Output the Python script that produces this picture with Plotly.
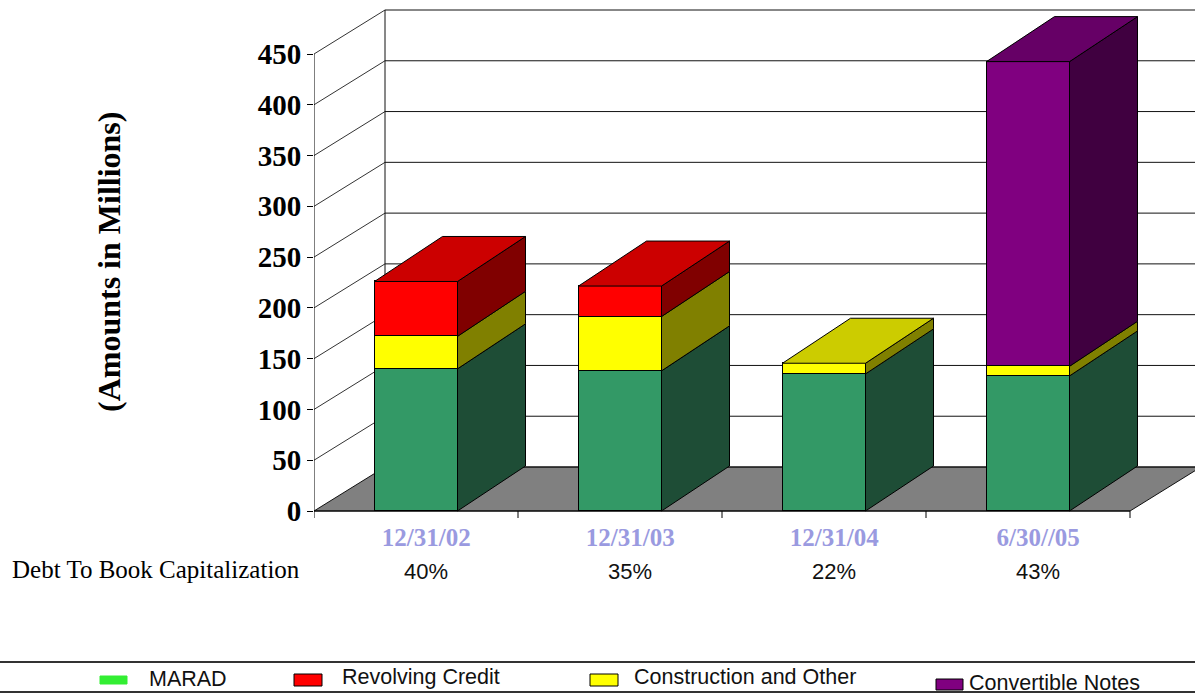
import plotly.graph_objects as go

# ---------------- data ----------------
categories = ["12/31/02", "12/31/03", "12/31/04", "6/30//05"]
debt_to_book = ["40%", "35%", "22%", "43%"]
marad = [140, 138, 135, 133]
construction = [32, 53.5, 10.5, 9.5]
revolving = [54, 30, 0, 0]
convertible = [0, 0, 0, 300]
y_tick_values = [0, 50, 100, 150, 200, 250, 300, 350, 400, 450]
legend_order = ["MARAD", "Revolving Credit", "Construction and Other", "Convertible Notes"]

# bottom -> top stacking order
stack = [
    ("MARAD", marad),
    ("Construction and Other", construction),
    ("Revolving Credit", revolving),
    ("Convertible Notes", convertible),
]

# ---------------- styles ----------------
STYLE = {
    "MARAD": dict(front="#339966", top="#267A4F", side="#1E4D36", legend="#33EE33"),
    "Construction and Other": dict(front="#FFFF00", top="#CCCC00", side="#808000", legend="#FFFF00"),
    "Revolving Credit": dict(front="#FF0000", top="#CC0000", side="#800000", legend="#FF0000"),
    "Convertible Notes": dict(front="#800080", top="#660066", side="#400040", legend="#800080"),
}

W, H = 1195, 695
L, T, B = 314, 5, 520           # plot-area pixel edges
ZERO_PX = 511                   # pixel row of value 0 on the front plane
PX_PER_UNIT = 457 / 450
PX_PER_CAT = 204

x_lo = -0.5
x_hi = x_lo + (W - L) / PX_PER_CAT
y_lo = -(B - ZERO_PX) / PX_PER_UNIT
y_hi = (ZERO_PX - T) / PX_PER_UNIT

WALL_DX, WALL_DY = 71 / PX_PER_CAT, 44 / PX_PER_UNIT
BAR_DX, BAR_DY = 68 / PX_PER_CAT, 45 / PX_PER_UNIT
BAR_W = 83 / PX_PER_CAT
HALF = BAR_W / 2
N = len(categories)
X_FLOOR_END = N - 0.5


def xp(px):
    return (px - L) / (W - L)


def yp(px):
    return (B - px) / (B - T)


def poly(points):
    return "M " + " L ".join(f"{a},{b}" for a, b in points) + " Z"


fig = go.Figure()

# front faces: real stacked bars
for name, vals in stack:
    st = STYLE[name]
    fig.add_trace(go.Bar(
        x=list(range(N)),
        y=[v if v else None for v in vals],
        name=name,
        width=BAR_W,
        marker=dict(color=st["front"], line=dict(color="black", width=1)),
        showlegend=False,
        hovertemplate=name + ": %{y}<extra></extra>",
    ))

shapes = []
line_col = "#111111"

# floor
shapes.append(dict(type="path", xref="x", yref="y", layer="below",
                   path=poly([(x_lo, 0), (X_FLOOR_END, 0),
                              (X_FLOOR_END + WALL_DX, WALL_DY), (x_lo + WALL_DX, WALL_DY)]),
                   fillcolor="#808080", line=dict(color=line_col, width=1)))

# walls / gridlines
for v in y_tick_values:
    if v > 0:
        shapes.append(dict(type="line", xref="x", yref="y", layer="below",
                           x0=x_lo, y0=v, x1=x_lo + WALL_DX, y1=v + WALL_DY,
                           line=dict(color="#333333", width=1)))
    shapes.append(dict(type="line", xref="x", yref="y", layer="below",
                       x0=x_lo + WALL_DX, y0=v + WALL_DY, x1=x_hi + 1, y1=v + WALL_DY,
                       line=dict(color=line_col, width=1)))
# back-left vertical edge
shapes.append(dict(type="line", xref="x", yref="y", layer="below",
                   x0=x_lo + WALL_DX, y0=WALL_DY, x1=x_lo + WALL_DX, y1=y_tick_values[-1] + WALL_DY,
                   line=dict(color=line_col, width=1)))
# front value axis
shapes.append(dict(type="line", xref="x", yref="y", layer="above",
                   x0=x_lo, y0=0, x1=x_lo, y1=y_tick_values[-1],
                   line=dict(color="black", width=1)))
# front category axis + small ticks
shapes.append(dict(type="line", xref="x", yref="y", layer="above",
                   x0=x_lo, y0=0, x1=X_FLOOR_END, y1=0, line=dict(color="black", width=1)))
for i in range(N + 1):
    xt = x_lo + i
    shapes.append(dict(type="line", xref="x", yref="y", layer="above",
                       x0=xt, y0=0, x1=xt, y1=-7 / PX_PER_UNIT, line=dict(color="black", width=1)))

# 3-D side and top faces of the bars, computed from the stacked values
for i in range(N):
    base = 0
    segs = []
    for name, vals in stack:
        v = vals[i]
        if v:
            segs.append((name, base, base + v))
            base += v
    for j, (name, y0, y1) in enumerate(segs):
        st = STYLE[name]
        xr = i + HALF
        shapes.append(dict(type="path", xref="x", yref="y", layer="above",
                           path=poly([(xr, y0), (xr + BAR_DX, y0 + BAR_DY),
                                      (xr + BAR_DX, y1 + BAR_DY), (xr, y1)]),
                           fillcolor=st["side"], line=dict(color="black", width=1)))
        if j == len(segs) - 1:
            xl = i - HALF
            shapes.append(dict(type="path", xref="x", yref="y", layer="above",
                               path=poly([(xl, y1), (xl + BAR_DX, y1 + BAR_DY),
                                          (xr + BAR_DX, y1 + BAR_DY), (xr, y1)]),
                               fillcolor=st["top"], line=dict(color="black", width=1)))

# ---------------- legend (drawn box) ----------------
shapes.append(dict(type="rect", xref="paper", yref="paper", layer="above",
                   x0=xp(-3), x1=xp(W + 3), y0=yp(692), y1=yp(662),
                   fillcolor="rgba(0,0,0,0)", line=dict(color="#333333", width=2)))
legend_pos = {
    "MARAD": dict(sx=(100, 127), sy=(676, 684), tx=147, ty=679, border=False),
    "Revolving Credit": dict(sx=(294, 322), sy=(674, 686), tx=340, ty=677, border=True),
    "Construction and Other": dict(sx=(590, 618), sy=(674, 686), tx=632, ty=677, border=True),
    "Convertible Notes": dict(sx=(936, 963), sy=(679, 690), tx=967, ty=683, border=True),
}
annotations = []
for name in legend_order:
    p = legend_pos[name]
    shapes.append(dict(type="rect", xref="paper", yref="paper", layer="above",
                       x0=xp(p["sx"][0]), x1=xp(p["sx"][1]), y0=yp(p["sy"][1]), y1=yp(p["sy"][0]),
                       fillcolor=STYLE[name]["legend"],
                       line=dict(color="black" if p["border"] else STYLE[name]["legend"], width=1)))
    annotations.append(dict(xref="paper", yref="paper", x=xp(p["tx"]), y=yp(p["ty"]),
                            xanchor="left", yanchor="middle", showarrow=False, text=name,
                            font=dict(family="Liberation Sans", size=21.5, color="#111111")))

# Debt to book capitalization row
annotations.append(dict(xref="paper", yref="paper", x=xp(10), y=yp(569),
                        xanchor="left", yanchor="middle", showarrow=False,
                        text="Debt To Book Capitalization",
                        font=dict(family="Liberation Serif", size=25, color="black")))
for i, pct in enumerate(debt_to_book):
    annotations.append(dict(xref="x", yref="paper", x=i + 0.05, y=yp(571),
                            xanchor="center", yanchor="middle", showarrow=False, text=pct,
                            font=dict(family="Liberation Sans", size=22, color="#111111")))

# value axis title
annotations.append(dict(xref="paper", yref="paper", x=xp(109), y=yp(262),
                        xanchor="center", yanchor="middle", showarrow=False, textangle=-90,
                        text="(Amounts in Millions)",
                        font=dict(family="Liberation Serif", size=32, color="black", weight="bold")))

fig.update_layout(
    width=W, height=H,
    margin=dict(l=L, r=0, t=T, b=H - B, autoexpand=False),
    paper_bgcolor="white", plot_bgcolor="white",
    barmode="stack", bargap=0,
    showlegend=False,
    shapes=shapes,
    annotations=annotations,
    xaxis=dict(range=[x_lo, x_hi], showgrid=False, zeroline=False, showline=False,
               tickmode="array", tickvals=[i + 0.05 for i in range(N)], ticktext=categories,
               ticks="", ticklabelstandoff=0,
               tickfont=dict(family="Liberation Serif", size=25, color="#9A9AE0", weight="bold")),
    yaxis=dict(range=[y_lo, y_hi], showgrid=False, zeroline=False, showline=False,
               tickmode="array", tickvals=y_tick_values,
               ticks="outside", ticklen=6, tickcolor="black", tickwidth=1,
               tickfont=dict(family="Liberation Serif", size=29, color="black", weight="bold")),
)

fig.write_html("out.html")
